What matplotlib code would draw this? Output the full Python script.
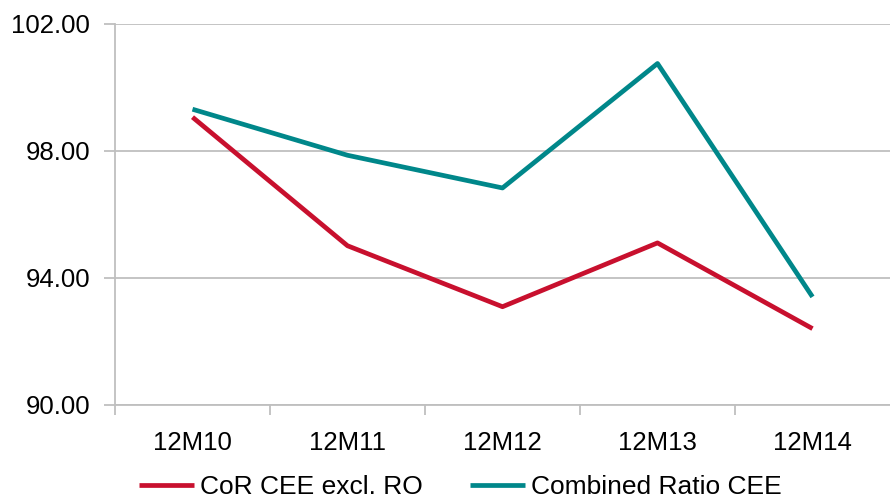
import matplotlib
matplotlib.use("Agg")
import matplotlib.pyplot as plt
from matplotlib.ticker import FixedLocator, NullFormatter

categories = ["12M10", "12M11", "12M12", "12M13", "12M14"]
cor_excl_ro = [99.05, 95.0, 93.08, 95.09, 92.39]
combined_ratio = [99.3, 97.85, 96.82, 100.74, 93.39]
yticks = [90, 94, 98, 102]

plt.rcParams['font.family'] = ['Liberation Sans', 'DejaVu Sans']

fig = plt.figure(figsize=(8.9, 5.03), dpi=100)
ax = fig.add_axes([115/890, 1 - 404.5/503, 775/890, (404.5-23.5)/503])

x = list(range(len(categories)))
red = '#C8102E'
teal = '#00878A'
ax.plot(x, cor_excl_ro, color=red, lw=3.4, solid_capstyle='butt', label='CoR CEE excl. RO')
ax.plot(x, combined_ratio, color=teal, lw=3.4, solid_capstyle='butt', label='Combined Ratio CEE')

ax.set_xlim(-0.5, 4.5)
ax.set_ylim(90, 102)
ax.set_yticks(yticks)
ax.set_yticklabels([f"{v:.2f}" for v in yticks], fontsize=18.5)
ax.yaxis.grid(True, color='#BFBFBF', lw=1.3)
ax.set_axisbelow(True)

ax.set_xticks(x)
ax.set_xticklabels(categories, fontsize=18.5)
ax.tick_params(axis='x', which='major', length=0, pad=19)
ax.xaxis.set_minor_locator(FixedLocator([-0.5, 0.5, 1.5, 2.5, 3.5]))
ax.xaxis.set_minor_formatter(NullFormatter())
ax.tick_params(axis='x', which='minor', length=7, width=1.3, color='#BFBFBF')
ax.tick_params(axis='y', length=8, width=1.3, color='#BFBFBF', pad=10)

for s in ['top', 'right']:
    ax.spines[s].set_visible(False)
for s in ['left', 'bottom']:
    ax.spines[s].set_color('#BFBFBF')
    ax.spines[s].set_linewidth(1.3)

leg = fig.legend(loc='center', bbox_to_anchor=(0.517, 1 - 487/503), ncol=2, frameon=False,
                 fontsize=19, handlelength=2.1, handletextpad=0.2, columnspacing=1.8)

fig.savefig("out.png", dpi=100)
